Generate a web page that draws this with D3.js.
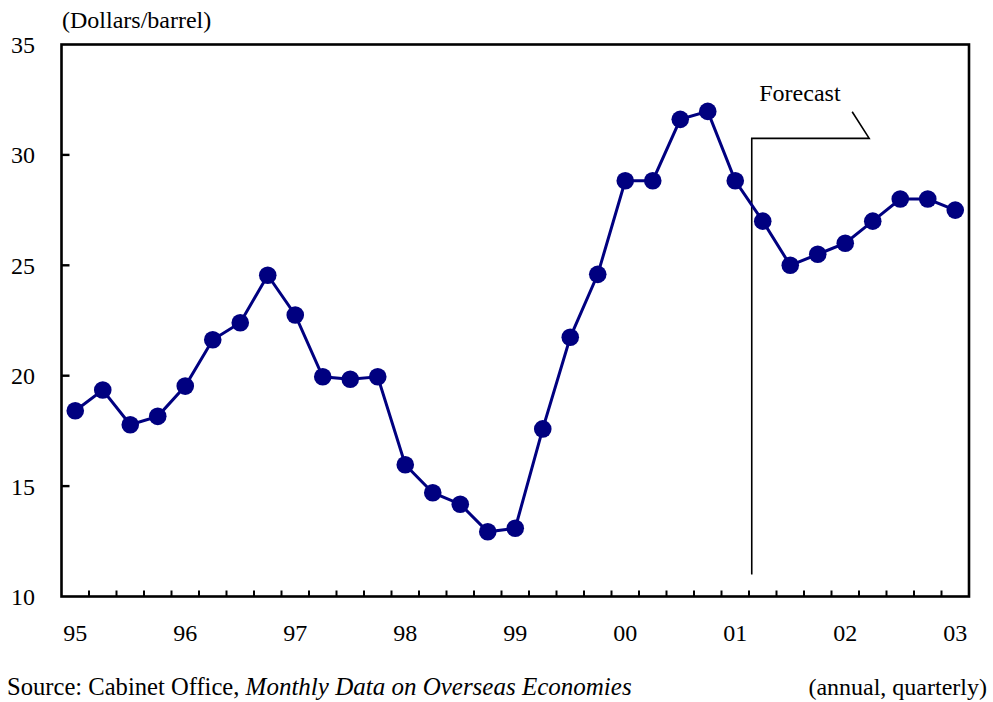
<!DOCTYPE html>
<html>
<head>
<meta charset="utf-8">
<script src="https://cdn.jsdelivr.net/npm/d3@7"></script>
<style>
  body { margin: 0; background: #fff; }
  svg { display: block; }
  text { font-family: "Liberation Serif", "Times New Roman", serif; fill: #000; }
</style>
</head>
<body>
<script>
const quarters = [
  "95Q1","95Q2","95Q3","95Q4","96Q1","96Q2","96Q3","96Q4",
  "97Q1","97Q2","97Q3","97Q4","98Q1","98Q2","98Q3","98Q4",
  "99Q1","99Q2","99Q3","99Q4","00Q1","00Q2","00Q3","00Q4",
  "01Q1","01Q2","01Q3","01Q4","02Q1","02Q2","02Q3","02Q4","03Q1"
];
const prices = [
  18.41, 19.35, 17.78, 18.16, 19.53, 21.63, 22.40, 24.55,
  22.75, 19.95, 19.84, 19.95, 15.97, 14.70, 14.18, 12.93,
  13.09, 17.59, 21.74, 24.59, 28.83, 28.83, 31.61, 31.97,
  28.83, 27.0, 25.0, 25.5, 26.0, 27.0, 28.0, 28.0, 27.5
];
const yTicks = [10, 15, 20, 25, 30, 35];
const yearLabels = ["95","96","97","98","99","00","01","02","03"];
const unitLabel = "(Dollars/barrel)";
const forecastLabel = "Forecast";
const forecastStart = "01Q2";
const sourcePlain = "Source: Cabinet Office, ";
const sourceItalic = "Monthly Data on Overseas Economies";
const frequencyNote = "(annual, quarterly)";

(function () {
const W = 993, H = 702;
const pL = 61.5, pR = 969, pT = 44.5, pB = 596.5;

const svg = d3.select("body").append("svg").attr("width", W).attr("height", H);

const x = d3.scaleBand().domain(quarters).range([pL, pR]).padding(0);
const y = d3.scaleLinear().domain([10, 35]).range([pB, pT]);
const bw = x.bandwidth();
const cx = q => x(q) + bw / 2;

// frame
svg.append("rect")
  .attr("x", pL).attr("y", pT)
  .attr("width", pR - pL).attr("height", pB - pT)
  .attr("fill", "none").attr("stroke", "#000").attr("stroke-width", 2.6);

// y ticks (inward)
const yAxis = svg.append("g");
yAxis.selectAll("line").data(yTicks.slice(1, -1)).join("line")
  .attr("x1", pL).attr("x2", pL + 8)
  .attr("y1", d => y(d)).attr("y2", d => y(d))
  .attr("stroke", "#000").attr("stroke-width", 2.4);
yAxis.selectAll("text").data(yTicks).join("text")
  .attr("x", 35).attr("y", d => y(d) + 8.5)
  .attr("text-anchor", "end").attr("font-size", 24)
  .text(d => d);

// x ticks at quarter boundaries (inward, upward)
const boundaries = quarters.slice(1).map(q => x(q));
svg.append("g").selectAll("line").data(boundaries).join("line")
  .attr("x1", d => d).attr("x2", d => d)
  .attr("y1", pB).attr("y2", pB - 6)
  .attr("stroke", "#000").attr("stroke-width", 2);

// year labels under Q1 centers
svg.append("g").selectAll("text").data(yearLabels).join("text")
  .attr("x", d => cx(d + "Q1"))
  .attr("y", 641)
  .attr("text-anchor", "middle").attr("font-size", 24)
  .text(d => d);

// unit label
svg.append("text").attr("x", 62).attr("y", 28)
  .attr("font-size", 24).text(unitLabel);

// forecast bracket
const fx = x(forecastStart) + bw * 0.1;
const fyTop = y(30.75), fyBot = y(11.0);
const fxEnd = x("02Q2") + bw * 0.37;
svg.append("path")
  .attr("d", `M${fx},${fyBot} L${fx},${fyTop} L${fxEnd},${fyTop} L${fxEnd - 17},${fyTop - 26.6}`)
  .attr("fill", "none").attr("stroke", "#000").attr("stroke-width", 1.6);
svg.append("text").attr("x", fx + 7.5).attr("y", 101)
  .attr("font-size", 24).text(forecastLabel);

// series line
const line = d3.line().x((d, i) => cx(quarters[i])).y(d => y(d));
svg.append("path").datum(prices)
  .attr("d", line)
  .attr("fill", "none").attr("stroke", "#000080").attr("stroke-width", 3);

svg.append("g").selectAll("circle").data(prices).join("circle")
  .attr("cx", (d, i) => cx(quarters[i]))
  .attr("cy", d => y(d))
  .attr("r", 8.8)
  .attr("fill", "#000080");

// source line
const src = svg.append("text").attr("x", 7).attr("y", 695).attr("font-size", 24.6);
src.append("tspan").text(sourcePlain);
src.append("tspan").attr("font-style", "italic").attr("font-size", 25).text(sourceItalic);
svg.append("text").attr("x", 987).attr("y", 695)
  .attr("text-anchor", "end").attr("font-size", 24).text(frequencyNote);
})();
</script>
</body>
</html>
